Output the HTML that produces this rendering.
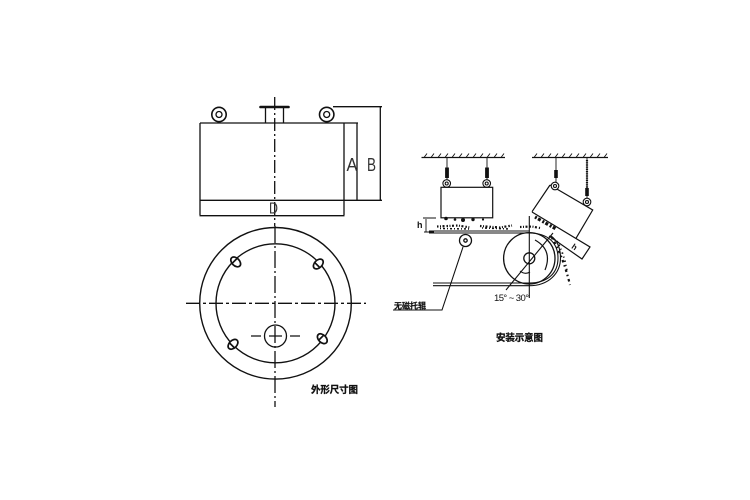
<!DOCTYPE html>
<html><head><meta charset="utf-8"><style>
html,body{margin:0;padding:0;background:#fff}
svg{display:block;filter:blur(.3px)}
text{font-family:"Liberation Sans","Noto Sans CJK SC",sans-serif;fill:#111}
.c{font-weight:bold;font-size:9.500px}
.s{font-family:"Liberation Sans","Noto Sans CJK SC",sans-serif;font-size:17px;fill:#333}
</style></head><body>
<svg width="750" height="500" viewBox="0 0 750 500" fill="none" stroke="#111" stroke-width="1.300">
<!-- left elevation -->
<path d="M200 123H358M200 123V215M344 123V215M200 200.300H382M199.500 215.700H344.500M333 106.700H382M357 123V200.300M380.300 106.700V200.300"/>
<path d="M260.500 107H288.500" stroke-width="2.600" stroke-linecap="round"/>
<path d="M265.500 108V123M283.500 108V123"/>
<circle cx="219" cy="114.500" r="7.200" stroke-width="1.600"/><circle cx="219" cy="114.500" r="3"/>
<circle cx="326.700" cy="114.500" r="7.200" stroke-width="1.600"/><circle cx="326.700" cy="114.500" r="3"/>
<path d="M274.700 97V226" stroke-dasharray="13 3 2 3"/>
<text class="s" x="346.500" y="171" stroke="none" style="font-size:18px" textLength="11" lengthAdjust="spacingAndGlyphs">A</text>
<text class="s" x="367" y="171" stroke="none" style="font-size:18px" textLength="9" lengthAdjust="spacingAndGlyphs">B</text>
<text class="s" x="269" y="213.500" stroke="none" style="font-size:16px" textLength="9" lengthAdjust="spacingAndGlyphs">D</text>
<!-- left plan -->
<circle cx="275.500" cy="303.300" r="75.800" stroke-width="1.400"/>
<circle cx="275.500" cy="303.300" r="59.500" stroke-width="1.400"/>
<circle cx="275.500" cy="336" r="11" stroke-width="1.300"/>
<path d="M275 226V407" stroke-dasharray="17 3 2 3"/>
<path d="M186 303.300H366" stroke-dasharray="14 3 3 3" stroke-width="1.300"/>
<path d="M251 336H261M269 336H282M290 336H300" stroke-width="1.300"/>
<g stroke-width="1.700" fill="#fff">
<g transform="translate(235.700 261.900) rotate(45)"><ellipse rx="5.800" ry="3.800"/><path d="M-1.500-3.500V3.500"/></g>
<g transform="translate(318.300 264) rotate(-45)"><ellipse rx="5.800" ry="3.800"/><path d="M-1.500-3.500V3.500"/></g>
<g transform="translate(233 344.300) rotate(-45)"><ellipse rx="5.800" ry="3.800"/><path d="M-1.500-3.500V3.500"/></g>
<g transform="translate(322.300 338.700) rotate(45)"><ellipse rx="5.800" ry="3.800"/><path d="M-1.500-3.500V3.500"/></g>
</g>
<text class="c" x="311" y="393" textLength="47" stroke="#111" stroke-width=".3">外形尺寸图</text>
<!-- right: ceilings -->
<path d="M421.500 157.500H505M532 157.500H608" stroke-width="1.200"/>
<path d="M424 157.500l3-4M431 157.500l3-4M438 157.500l3-4M445 157.500l3-4M452 157.500l3-4M459 157.500l3-4M466 157.500l3-4M473 157.500l3-4M480 157.500l3-4M487 157.500l3-4M494 157.500l3-4M501 157.500l3-4M534 157.500l3-4M541 157.500l3-4M548 157.500l3-4M555 157.500l3-4M562 157.500l3-4M569 157.500l3-4M576 157.500l3-4M583 157.500l3-4M590 157.500l3-4M597 157.500l3-4M604 157.500l3-4" stroke-width=".9"/>
<!-- horizontal magnet -->
<rect x="441" y="187.300" width="51.700" height="30.500" stroke-width="1.200"/>
<g stroke-width="1.100"><circle cx="446.700" cy="183.500" r="3.800"/><circle cx="446.700" cy="183.500" r="1.500"/><circle cx="486.700" cy="183.500" r="3.800"/><circle cx="486.700" cy="183.500" r="1.500"/></g>
<path d="M447 158V180M487 158V180" stroke-width=".9"/>
<path d="M447 167.500V178M487 167.500V178" stroke-width="3.800"/>
<!-- tilted magnet -->
<path d="M550 185L592.700 210L576 238.300M532 211.700L550 185" stroke-width="1.200"/>
<path d="M532 212L590 247L582 259L549 236" stroke-width="1.200"/>
<g stroke-width="1.100" fill="#fff"><circle cx="555" cy="186" r="3.800"/><circle cx="555" cy="186" r="1.500"/><circle cx="587" cy="202" r="3.800"/><circle cx="587" cy="202" r="1.500"/></g>
<path d="M556 158V182M587 158V198" stroke-width=".9"/>
<path d="M556 170V178M587 188V196" stroke-width="3.600"/>
<path d="M587 160V188" stroke-width="2.200" stroke-dasharray="1.200 1"/>
<!-- h marks -->
<path d="M423 218H436M424 232H434M426 219V232" stroke-width=".9"/>
<text x="417" y="228" stroke="none" style="font-size:9px;font-weight:bold">h</text>
<text x="572" y="250" stroke="none" style="font-size:8px;font-weight:bold" transform="rotate(35 575 247)">h</text>
<!-- material -->
<g fill="#111" stroke="none"><circle cx="446" cy="218.500" r="1.800"/><circle cx="455" cy="219.500" r="1.300"/><circle cx="463" cy="220" r="2"/><circle cx="473" cy="219.500" r="1.700"/><circle cx="483" cy="219.500" r="1.100"/></g>
<path d="M437 226.500L458 225.500L470 227.500M480 226L500 227.500L512 225.500M520 227L532 226.500L540 228" stroke-width="2.200" stroke-dasharray="1.500 1.500 1 1.500 2 2"/>
<path d="M440 228.500L470 229M482 228L510 229" stroke-width="1.500" stroke-dasharray="1 2 2 2"/>
<path d="M535 217L556 229" stroke-width="3.200" stroke-dasharray="2 1.500 3 2"/>
<path d="M552 238Q563 256 570 285" stroke-width="2.200" stroke-dasharray="1.500 3 2.500 3"/>
<path d="M557 241Q565 256 567 272" stroke-width="1.800" stroke-dasharray="1 3 1.500 3"/>
<!-- belt and pulley -->
<path d="M429 233H529C548 233 558 243 558 258C558 273 548 283 529 283H433M433 285.700H529C549 285.700 560.500 273 560.500 258C560.500 248 557 240 551 236M429 231H529" stroke-width="1.100"/>
<circle cx="529.300" cy="258.300" r="25.700" stroke-width="1.300"/>
<circle cx="529.300" cy="258.300" r="5.500" stroke-width="1.300"/>
<path d="M529.300 216V298M506 290L553 233" stroke-width="1.100"/>
<path d="M535 240Q553 250 545 270" stroke-width="1.200"/>
<path d="M520 271Q525 275 530 272" stroke-width="1.100"/>
<!-- roller and leader -->
<circle cx="465.500" cy="240.500" r="6" stroke-width="1.300"/><circle cx="465.500" cy="240.500" r="1.700"/>
<path d="M463 247L442 310H393" stroke-width="1.100"/>
<text x="494" y="301" style="font-size:9.500px" stroke="none" textLength="35">15° ~ 30°</text>
<text class="c" x="394" y="308.500" textLength="32" style="font-size:8px" stroke="#111" stroke-width=".2">无磁托辊</text>
<text class="c" x="496" y="341" textLength="47" stroke="#111" stroke-width=".3">安装示意图</text>
</svg>
</body></html>
